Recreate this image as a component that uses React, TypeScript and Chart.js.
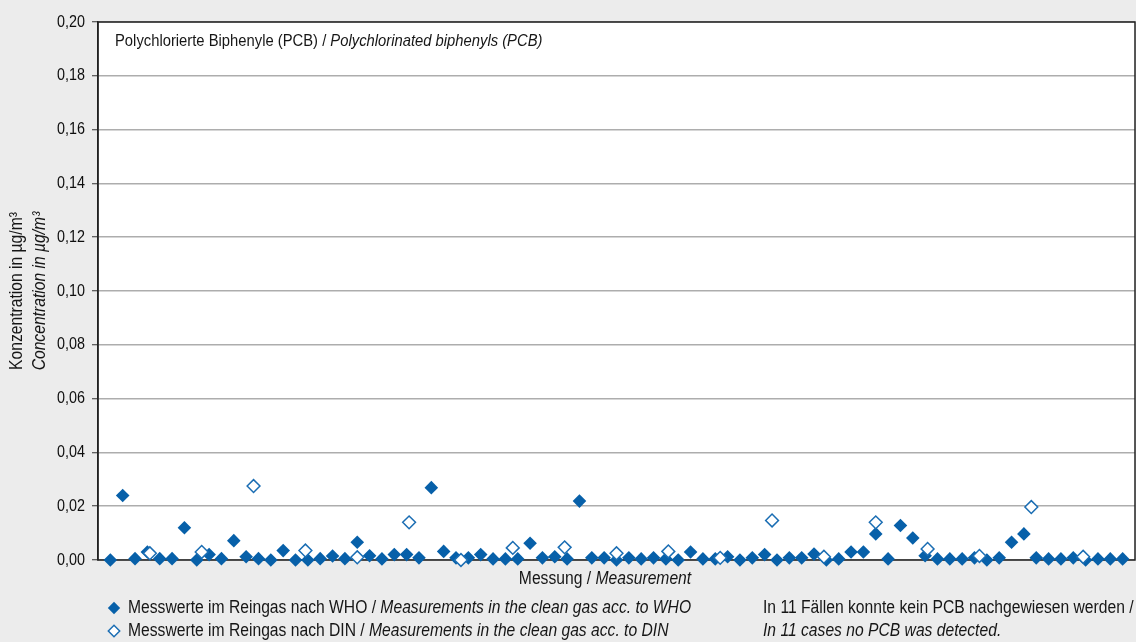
import React, { useEffect, useRef } from 'react';
import { Chart, registerables } from 'chart.js';

Chart.register(...registerables);

// WHO measurements (measurement 1..83), µg/m³
const whoValues = [
  0, 0.024, 0.0005, 0.003, 0.0005, 0.0005, 0.012, 0, 0.002, 0.0005,
  0.0072, 0.0012, 0.0005, 0, 0.0035, 0, 0, 0.0005, 0.0015, 0.0005,
  0.0066, 0.0016, 0.0004, 0.002, 0.002, 0.0008, 0.0269, 0.0032, 0.0008, 0.0008,
  0.002, 0.0004, 0.0004, 0.0004, 0.0062, 0.0008, 0.0012, 0.0004, 0.0219, 0.0008,
  0.0008, 0, 0.0008, 0.0004, 0.0008, 0.0004, 0, 0.003, 0.0004, 0.0004,
  0.0012, 0, 0.0008, 0.002, 0, 0.0008, 0.0008, 0.0022, 0, 0.0004,
  0.003, 0.003, 0.0097, 0.0004, 0.0128, 0.0082, 0.0016, 0.0004, 0.0004, 0.0004,
  0.0008, 0, 0.0008, 0.0066, 0.0097, 0.0008, 0.0004, 0.0004, 0.0008, 0,
  0.0004, 0.0004, 0.0004,
];

// DIN measurements (measurement 1..19), µg/m³
const dinValues = [
  0.0025, 0.003, 0.0275, 0.0035, 0.001, 0.014, 0, 0.0045, 0.0047, 0.0025,
  0.0032, 0.0008, 0.0147, 0.0012, 0.014, 0.0041, 0.0015, 0.0197, 0.0012,
];

const yTicks = [0, 0.02, 0.04, 0.06, 0.08, 0.1, 0.12, 0.14, 0.16, 0.18, 0.2];
const yTickLabels = ['0,00', '0,02', '0,04', '0,06', '0,08', '0,10', '0,12', '0,14', '0,16', '0,18', '0,20'];

const titleRuns = [
  { text: 'Polychlorierte Biphenyle (PCB) / ', italic: false },
  { text: 'Polychlorinated biphenyls (PCB)', italic: true },
];
const yTitleDe = 'Konzentration in µg/m³';
const yTitleEn = 'Concentration in µg/m³';
const xTitleRuns = [
  { text: 'Messung / ', italic: false },
  { text: 'Measurement', italic: true },
];
const legendWho = [
  { text: 'Messwerte im Reingas nach WHO / ', italic: false },
  { text: 'Measurements in the clean gas acc. to WHO', italic: true },
];
const legendDin = [
  { text: 'Messwerte im Reingas nach DIN / ', italic: false },
  { text: 'Measurements in the clean gas acc. to DIN', italic: true },
];
const noteLine1 = 'In 11 Fällen konnte kein PCB nachgewiesen werden /';
const noteLine2 = 'In 11 cases no PCB was detected.';

const FONT = '"Liberation Sans", Arial, sans-serif';
const NARROW = 0.87; // horizontal condensation to imitate a condensed face
const BLUE = '#0760a9';
const BLUE_LINE = '#1a6db3';
const TEXT = '#161616';

type Run = { text: string; italic: boolean };

function fontOf(size: number, italic: boolean) {
  return `${italic ? 'italic ' : ''}${size}px ${FONT}`;
}

function runsWidth(ctx: CanvasRenderingContext2D, runs: Run[], size: number) {
  let total = 0;
  for (const r of runs) {
    ctx.font = fontOf(size, r.italic);
    total += ctx.measureText(r.text).width * NARROW;
  }
  return total;
}

function drawRuns(
  ctx: CanvasRenderingContext2D,
  runs: Run[],
  x: number,
  y: number,
  size: number,
  align: 'left' | 'center' | 'right' = 'left',
  color: string = TEXT,
) {
  ctx.save();
  ctx.textBaseline = 'middle';
  ctx.textAlign = 'left';
  ctx.fillStyle = color;
  const total = runsWidth(ctx, runs, size);
  let cx = align === 'center' ? x - total / 2 : align === 'right' ? x - total : x;
  for (const r of runs) {
    ctx.font = fontOf(size, r.italic);
    const w = ctx.measureText(r.text).width * NARROW;
    ctx.save();
    ctx.translate(cx, y);
    ctx.scale(NARROW, 1);
    ctx.fillText(r.text, 0, 0);
    ctx.restore();
    cx += w;
  }
  ctx.restore();
}

function diamond(ctx: CanvasRenderingContext2D, x: number, y: number, r: number, filled: boolean) {
  ctx.save();
  ctx.beginPath();
  ctx.moveTo(x - r, y);
  ctx.lineTo(x, y - r);
  ctx.lineTo(x + r, y);
  ctx.lineTo(x, y + r);
  ctx.closePath();
  if (filled) {
    ctx.fillStyle = BLUE;
    ctx.fill();
  } else {
    ctx.fillStyle = '#ffffff';
    ctx.fill();
    ctx.lineWidth = 1.5;
    ctx.strokeStyle = BLUE_LINE;
    ctx.stroke();
  }
  ctx.restore();
}

const decorPlugin = {
  id: 'decor',
  beforeDraw(chart: any) {
    const { ctx, chartArea: a } = chart;
    ctx.save();
    ctx.fillStyle = '#ececec';
    ctx.fillRect(0, 0, chart.width, chart.height);
    ctx.fillStyle = '#ffffff';
    ctx.fillRect(a.left, a.top, a.right - a.left, a.bottom - a.top);
    ctx.restore();
  },
  beforeDatasetsDraw(chart: any) {
    const { ctx, chartArea: a } = chart;
    ctx.save();
    ctx.strokeStyle = '#222222';
    ctx.lineWidth = 1.5;
    ctx.strokeRect(a.left, a.top, a.right - a.left, a.bottom - a.top);
    ctx.restore();
  },
  afterDraw(chart: any) {
    const { ctx, chartArea: a } = chart;
    const yScale = chart.scales.y;
    // y tick labels
    yTicks.forEach((v, i) => {
      drawRuns(ctx, [{ text: yTickLabels[i], italic: false }], a.left - 13, yScale.getPixelForValue(v), 16.5, 'right', '#0e0e0e');
    });
    // inner title
    drawRuns(ctx, titleRuns, a.left + 17, a.top + 19, 17);
    // y-axis titles (rotated)
    const midY = (a.top + a.bottom) / 2;
    const lines: [string, boolean, number][] = [
      [yTitleDe, false, 17],
      [yTitleEn, true, 40],
    ];
    for (const [txt, it, xPos] of lines) {
      ctx.save();
      ctx.fillStyle = TEXT;
      ctx.textAlign = 'center';
      ctx.textBaseline = 'middle';
      ctx.translate(xPos, midY);
      ctx.rotate(-Math.PI / 2);
      ctx.scale(NARROW, 1);
      ctx.font = fontOf(18, it);
      ctx.fillText(txt, 0, 0);
      ctx.restore();
    }
    // x-axis title
    drawRuns(ctx, xTitleRuns, 605, a.bottom + 19, 18, 'center');
    // legend
    diamond(ctx, 114, a.bottom + 48, 6.2, true);
    drawRuns(ctx, legendWho, 128, a.bottom + 48, 18);
    diamond(ctx, 114, a.bottom + 71, 5.7, false);
    drawRuns(ctx, legendDin, 128, a.bottom + 71, 18);
    // note
    drawRuns(ctx, [{ text: noteLine1, italic: false }], 763, a.bottom + 48, 18);
    drawRuns(ctx, [{ text: noteLine2, italic: true }], 763, a.bottom + 71, 18);
  },
};

export default function App() {
  const canvasRef = useRef<HTMLCanvasElement | null>(null);

  useEffect(() => {
    if (!canvasRef.current) return;
    const chart = new Chart(canvasRef.current, {
      type: 'scatter',
      data: {
        datasets: [
          {
            label: 'WHO',
            data: whoValues.map((v, i) => ({ x: i + 1, y: v })),
            xAxisID: 'x',
            yAxisID: 'y',
            pointStyle: 'rectRot',
            pointRadius: 6.8,
            pointHoverRadius: 6.8,
            backgroundColor: BLUE,
            borderColor: BLUE,
            borderWidth: 0,
            showLine: false,
            clip: false as any,
            order: 2,
          },
          {
            label: 'DIN',
            data: dinValues.map((v, i) => ({ x: i + 1, y: v })),
            xAxisID: 'x2',
            yAxisID: 'y',
            pointStyle: 'rectRot',
            pointRadius: 6.4,
            pointHoverRadius: 6.4,
            backgroundColor: '#ffffff',
            borderColor: BLUE_LINE,
            borderWidth: 1.5,
            showLine: false,
            clip: false as any,
            order: 1,
          },
        ],
      },
      options: {
        animation: false,
        responsive: true,
        maintainAspectRatio: false,
        layout: { autoPadding: false, padding: { left: 0, top: 22, right: 1, bottom: 82 } },
        plugins: {
          legend: { display: false },
          tooltip: { enabled: false },
          title: { display: false },
        },
        scales: {
          x: { type: 'linear', display: false, min: 0, max: whoValues.length + 1 },
          x2: { type: 'linear', display: false, min: 0, max: dinValues.length + 1 },
          y: {
            type: 'linear',
            min: 0,
            max: 0.2,
            afterBuildTicks: (scale: any) => {
              scale.ticks = yTicks.map((v) => ({ value: v }));
            },
            afterFit: (scale: any) => {
              scale.width = 98;
            },
            ticks: { display: false },
            grid: {
              color: '#adadad',
              lineWidth: 1.5,
              tickColor: '#333333',
              tickLength: 6,
              tickWidth: 1,
            },
            border: { color: '#222222', width: 1.5 },
          },
        },
      },
      plugins: [decorPlugin],
    });
    return () => chart.destroy();
  }, []);

  return (
    <div style={{ position: 'absolute', left: 0, top: 0, width: 1136, height: 642 }}>
      <canvas ref={canvasRef} style={{ display: 'block' }} />
    </div>
  );
}
